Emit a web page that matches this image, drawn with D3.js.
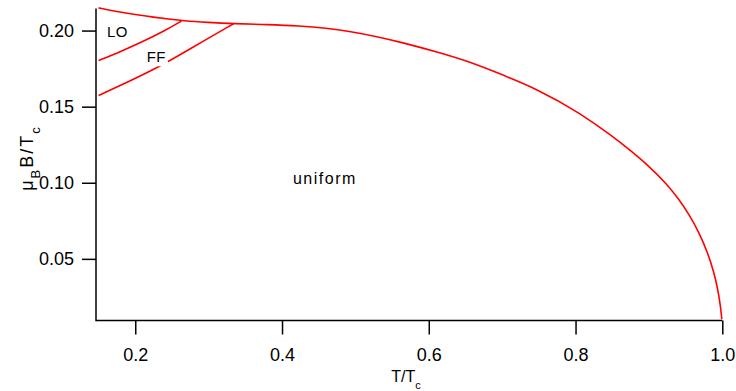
<!DOCTYPE html>
<html>
<head>
<meta charset="utf-8">
<script src="https://cdn.jsdelivr.net/npm/d3@7/dist/d3.min.js"></script>
<style>
  html, body { margin: 0; padding: 0; background: #fff; }
  svg { display: block; font-family: "Liberation Sans", Arial, Helvetica, sans-serif; }
</style>
</head>
<body>
<svg id="chart" width="736" height="391"></svg>
<script>
// ---- data ----
const boundaryT = [0.150, 0.175, 0.200, 0.225, 0.250, 0.263, 0.300, 0.334, 0.380, 0.424, 0.460, 0.493, 0.530, 0.561, 0.615, 0.652, 0.683, 0.751, 0.806, 0.851, 0.874, 0.900, 0.924, 0.940, 0.956, 0.969, 0.980, 0.988, 0.994, 0.998, 0.9993];
const boundaryB = [0.2149, 0.2125, 0.2105, 0.2088, 0.2073, 0.2065, 0.2053, 0.2045, 0.2040, 0.2031, 0.2017, 0.1994, 0.1960, 0.1925, 0.1855, 0.1800, 0.1743, 0.1610, 0.1458, 0.1303, 0.1215, 0.1110, 0.0994, 0.0898, 0.0782, 0.0666, 0.0541, 0.0422, 0.0300, 0.0174, 0.0103];
const loFfT = [0.150, 0.180, 0.210, 0.240, 0.263];
const loFfB = [0.1803, 0.1862, 0.1927, 0.1998, 0.2063];
const ffUniT = [0.150, 0.190, 0.236, 0.2745, 0.334];
const ffUniB = [0.1573, 0.1662, 0.1770, 0.1880, 0.2045];
const xTicks = [0.2, 0.4, 0.6, 0.8, 1.0];
const yTicks = [0.05, 0.10, 0.15, 0.20];
const regionNames = ["LO", "FF", "uniform"];
const regionT = [0.1614, 0.2155, 0.4149];
const regionB = [0.1961, 0.1792, 0.0993];

// ---- layout ----
const svg = d3.select("#chart");
const x = d3.scaleLinear().domain([0.1465, 1.0]).range([96, 722.3]);
const y = d3.scaleLinear().domain([0.0095, 0.2145]).range([320.5, 8.5]);

const fontTick = 18;

const gx = svg.append("g").attr("transform", "translate(0,320.5)")
  .call(d3.axisBottom(x).tickValues(xTicks).tickFormat(d3.format(".1f")).tickSize(14).tickSizeOuter(0).tickPadding(14));
const gy = svg.append("g").attr("transform", "translate(96,0)")
  .call(d3.axisLeft(y).tickValues(yTicks).tickFormat(d3.format(".2f")).tickSize(14).tickSizeOuter(0).tickPadding(8));

[gx, gy].forEach(g => {
  g.select(".domain").attr("stroke", "#000").attr("stroke-width", 1.5);
  g.selectAll(".tick line").attr("stroke", "#000").attr("stroke-width", 1.5);
  g.selectAll(".tick text").attr("fill", "#000").style("font-size", fontTick + "px")
    .style("font-family", '"Liberation Sans", Arial, sans-serif');
});
gx.select(".domain").attr("d", `M${x.range()[0]},0H${x.range()[1]}`);
gy.select(".domain").attr("d", `M0,${y.range()[1]}V${y.range()[0]+0.75}`);

// lines
const line = d3.line().x(d => x(d[0])).y(d => y(d[1])).curve(d3.curveBasis);
const series = [
  d3.zip(boundaryT, boundaryB),
  d3.zip(loFfT, loFfB),
  d3.zip(ffUniT, ffUniB)
];
svg.append("g").selectAll("path").data(series).join("path")
  .attr("d", line).attr("fill", "none").attr("stroke", "#ff0000").attr("stroke-width", 1.6);

// region labels
const lbls = svg.append("g");
regionNames.forEach((name, i) => {
  const g = lbls.append("g");
  const t = g.append("text").attr("x", x(regionT[i])).attr("y", y(regionB[i]))
    .style("font-size", name === "uniform" ? "16px" : "15px")
    .style("letter-spacing", name === "uniform" ? "1.5px" : "0.5px")
    .attr("fill", "#000").text(name);
  const bb = t.node().getBBox();
  g.insert("rect", "text").attr("x", bb.x).attr("y", bb.y).attr("width", bb.width + 2).attr("height", bb.height + 1)
    .attr("fill", "#fff");
});

// axis titles
const xl = svg.append("text").attr("x", 406).attr("y", 381.7).attr("text-anchor", "middle")
  .style("font-size", "16px").attr("fill", "#000");
xl.append("tspan").text("T/T");
xl.append("tspan").attr("dy", 7).style("font-size", "11px").text("c");

const yl = svg.append("text").attr("transform", "translate(33,158) rotate(-90)").attr("text-anchor", "middle")
  .style("font-size", "18px").style("letter-spacing", "2px").attr("fill", "#000");
yl.append("tspan").text("μ");
yl.append("tspan").attr("dy", 7).style("font-size", "13px").text("B");
yl.append("tspan").attr("dy", -7).text("B/T");
yl.append("tspan").attr("dy", 7).style("font-size", "13px").text("c");
</script>
</body>
</html>
